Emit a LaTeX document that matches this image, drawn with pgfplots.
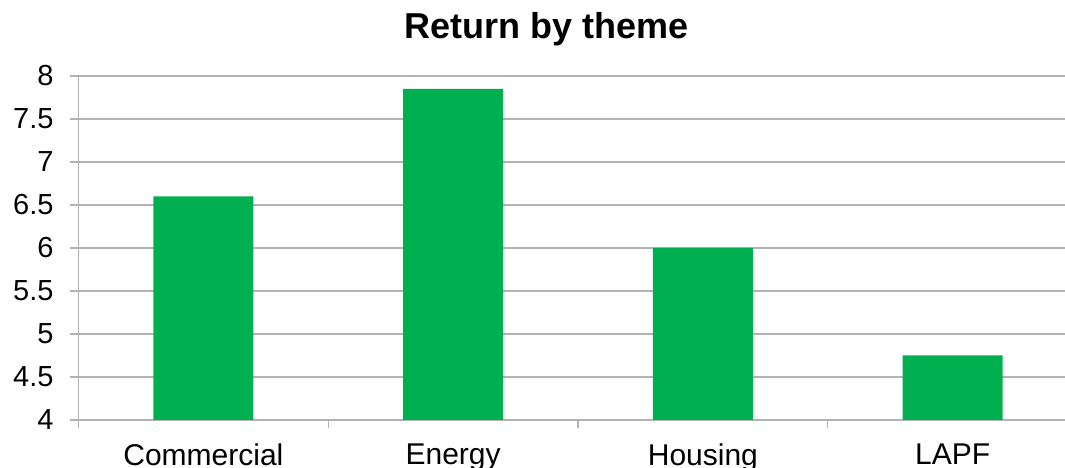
\documentclass[border=0pt]{standalone}
\usepackage{fontspec}
\setmainfont{Liberation Sans}
\usepackage{pgfplots}
\pgfplotsset{compat=1.18}
\definecolor{bargreen}{HTML}{00B050}
\definecolor{gridgray}{HTML}{B3B3B3}
\begin{document}
\begin{tikzpicture}
\useasboundingbox (0,0) rectangle (532.5bp,234bp);
\clip (0,0) rectangle (532.5bp,234bp);
\begin{axis}[
  at={(39.25bp,24bp)}, anchor=south west,
  scale only axis, width=499.5bp, height=172bp,
  xmin=-0.5, xmax=3.5, ymin=4, ymax=8,
  axis x line*=bottom, axis y line*=left,
  axis line style={draw=gridgray, line width=0.65bp},
  ymajorgrids, grid style={draw=gridgray, line width=0.65bp},
  tick style={draw=gridgray, line width=0.65bp},
  tick align=outside, major tick length=4bp,
  ytick={4,4.5,5,5.5,6,6.5,7,7.5,8},
  yticklabels={4,4.5,5,5.5,6,6.5,7,7.5,8},
  xtick={-0.5,0.5,1.5,2.5,3.5}, xticklabels={},
  extra x ticks={0,1,2,3},
  extra x tick labels={Commercial,Energy,Housing,LAPF},
  extra x tick style={major tick length=0pt},
  ticklabel style={font=\fontsize{14.5bp}{17bp}\selectfont},
  yticklabel style={xshift=-5bp},
  xticklabel style={yshift=-8.5bp, font=\fontsize{15bp}{17bp}\selectfont},
  ybar, bar width=0.4,
]
\addplot[fill=bargreen, draw=none] coordinates {(0,6.6) (1,7.85) (2,6) (3,4.75)};
\end{axis}
\node[anchor=base, font=\bfseries\fontsize{18bp}{20bp}\selectfont] at (273.5bp,214.5bp) {Return by theme};
\end{tikzpicture}
\end{document}
